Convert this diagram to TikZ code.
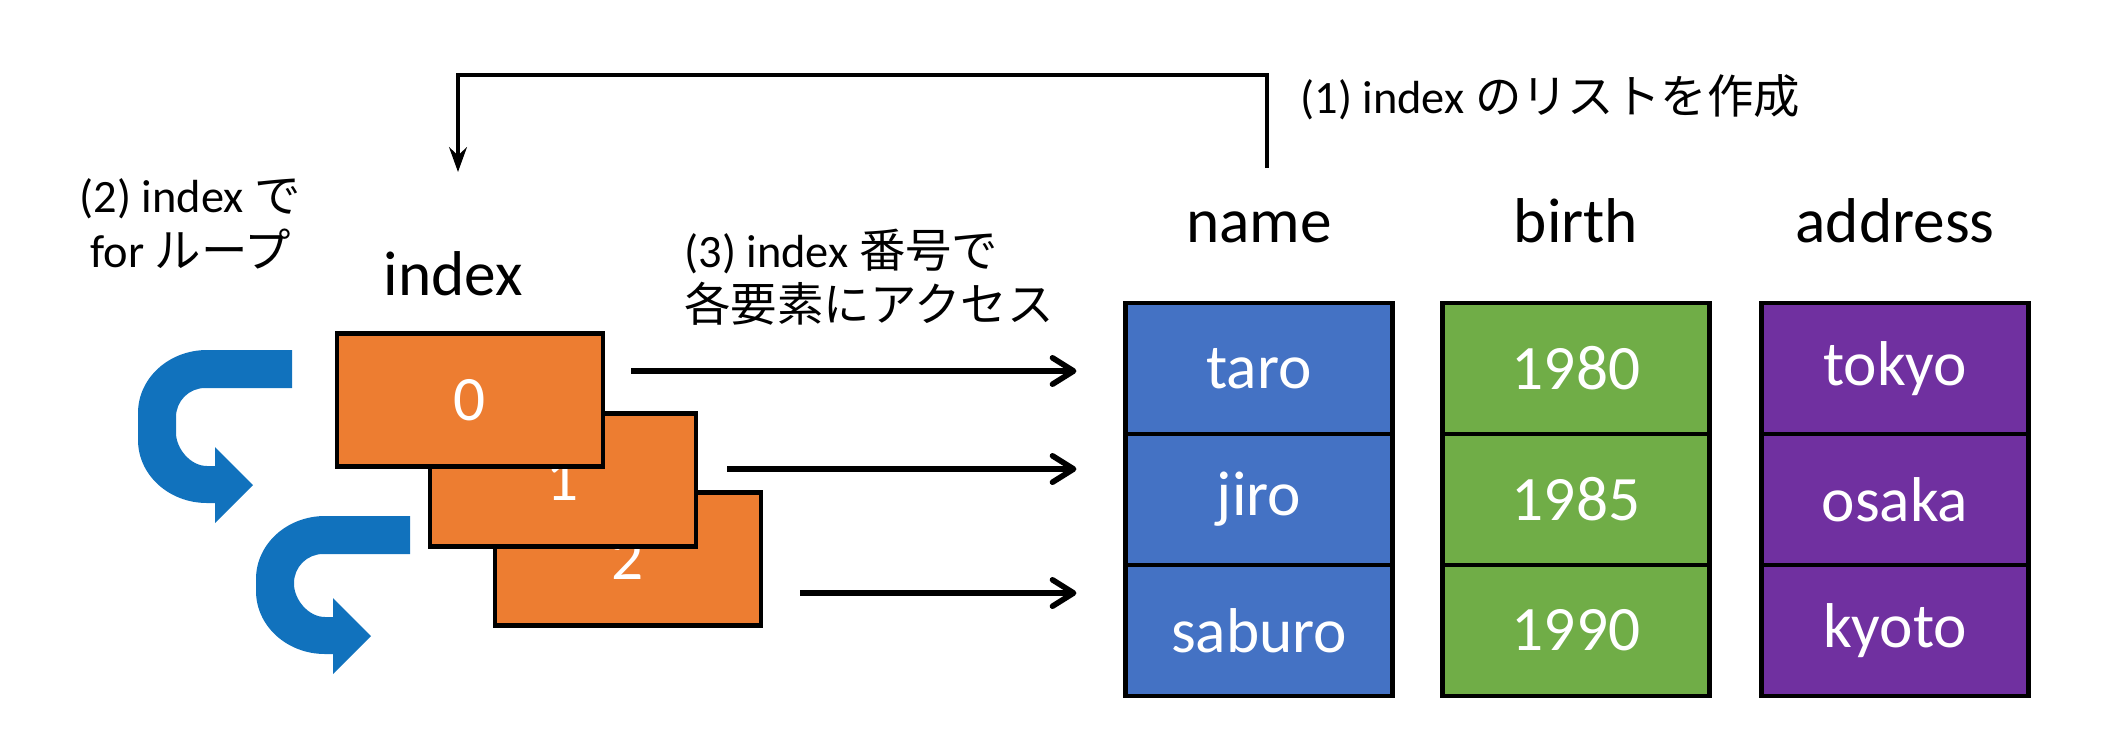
\documentclass[tikz,border=0pt]{standalone}
\usepackage{fontspec}
\setmainfont{Carlito}
\newfontfamily\jp{Noto Sans CJK JP}
\usepackage{xcolor}
\usepackage{tikz}
\usetikzlibrary{arrows.meta,positioning}
\definecolor{cardorange}{HTML}{ED7D31}
\definecolor{cellblue}{HTML}{4472C4}
\definecolor{cellgreen}{HTML}{70AD47}
\definecolor{cellpurple}{HTML}{7030A0}
\definecolor{loopblue}{HTML}{1172BD}
\newcommand{\bigtxt}{\fontsize{18}{21.6}\selectfont}
\newcommand{\notetxt}{\fontsize{13.2}{15.6}\selectfont}
\tikzset{
  cell/.style={draw,line width=1.3pt,outer sep=0pt,inner sep=0pt,
    minimum width=2.67cm,minimum height=1.31cm,text=white,font=\bigtxt},
  card/.style={cell,fill=cardorange,minimum width=2.66cm,minimum height=1.33cm},
  head/.style={anchor=base,font=\bigtxt},
  note/.style={font=\notetxt},
  link/.style={line width=1.6pt,shorten >=0.49cm,
    -{Straight Barb[length=6pt,width=7.5pt,round]}},
  back/.style={line width=1.3pt,-{Stealth[length=7pt,width=5pt]}},
  pics/uturn/.style={code={
    \fill[loopblue] (154,0) -- (69,0) .. controls (31,0) and (0,28) .. (0,63)
      -- (0,{90+#1}) .. controls (0,{125+#1}) and (31,{153+#1}) .. (69,{153+#1})
      -- (77,{153+#1}) -- (77,{173+#1}) -- (115,{135+#1}) -- (77,{97+#1})
      -- (77,{116+#1}) -- (69,{116+#1})
      .. controls (52,{116+#1}) and (38,{98+#1}) .. (38,{83+#1})
      -- (38,67) .. controls (38,51) and (51,38) .. (67,38) -- (154,38) -- cycle;
  }}
}
\begin{document}
\begin{tikzpicture}[x=0.01cm,y=-0.01cm]
  \useasboundingbox (0,0) rectangle (2116,754);
  % --- table ---
  \foreach \nm/\cx/\clr/\ta/\tb/\tc in {name/1259/cellblue/taro/jiro/saburo,
      birth/1576/cellgreen/1980/1985/1990,
      address/1895/cellpurple/tokyo/osaka/kyoto} {
    \node[cell,fill=\clr] (\nm1) at (\cx,368.5) {\ta};
    \node[cell,fill=\clr,below=0pt of \nm1] (\nm2) {\tb};
    \node[cell,fill=\clr,below=0pt of \nm2] (\nm3) {\tc};
    \node[head] (\nm-h) at (\cx,242) {\nm};
  }
  % --- index cards ---
  \node[card] (c2) at (628,559) {2};
  \node[card] (c1) at (563,480) {1};
  \node[card] (c0) at (470,400) {0};
  \node[head] (ix-h) at (453,295) {index};
  % --- loop arrows ---
  \pic at (138,350) {uturn=0};
  \pic at (256,516) {uturn=-15};
  % --- access arrows ---
  \coordinate (s0) at (631,371);
  \coordinate (s1) at (727,469);
  \coordinate (s2) at (800,593);
  \draw[link] (s0) -- (s0 -| name1.west);
  \draw[link] (s1) -- (s1 -| name2.west);
  \draw[link] (s2) -- (s2 -| name3.west);
  % --- make list arrow ---
  \coordinate (mk) at (1267,168);
  \coordinate (ix-t) at (458,172);
  \draw[back] (mk) -- ++(0,-93) -| (ix-t);
  % --- notes ---
  \node[note,anchor=base west] (n1) at (1288,113) {(1) index {\jp のリストを作成}};
  \node[note,anchor=base] (n2a) at (190,212) {(2) index {\jp で}};
  \node[note,anchor=base] (n2b) at (191,267) {for {\jp ループ}};
  \node[note,anchor=base west] (n3a) at (672,267) {(3) index {\jp 番号で}};
  \node[note,anchor=base west] (n3b) at (672,321) {{\jp 各要素にアクセス}};
\end{tikzpicture}
\end{document}
